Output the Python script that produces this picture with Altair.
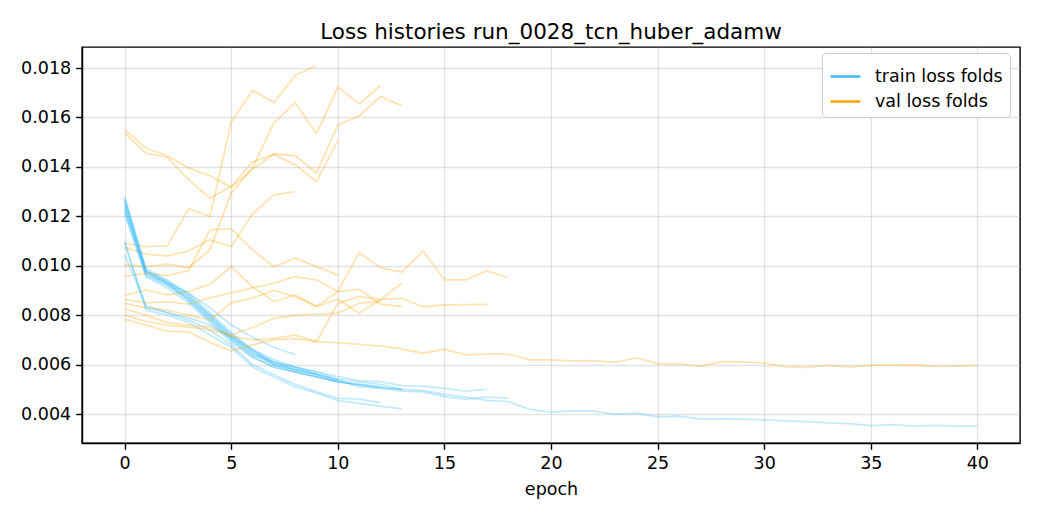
import altair as alt
import pandas as pd

# ---- data (epoch index = position in list) ----
TRAIN_F01 = [0.01044, 0.0084, 0.0081, 0.0079, 0.0076, 0.0071, 0.0066, 0.0062, 0.0059, 0.0056]
VAL_F01 = [0.0109, 0.01077, 0.0108, 0.0123, 0.0120, 0.0158, 0.0171, 0.0166, 0.0177, 0.0181]

TRAIN_F02 = [0.0128, 0.0099, 0.0094, 0.0089, 0.0081, 0.0073, 0.0066, 0.0061, 0.0059, 0.0057, 0.0054, 0.0053, 0.0052, 0.0050]
VAL_F02 = [0.0155, 0.01476, 0.01445, 0.01395, 0.01364, 0.01318, 0.0139, 0.01453, 0.01445, 0.01375, 0.0157, 0.01606, 0.01685, 0.01647]

TRAIN_F03 = [0.0126, 0.0098, 0.0093, 0.0088, 0.0080, 0.0072, 0.0065, 0.0060, 0.0058, 0.0056, 0.0053]
VAL_F03 = [0.01536, 0.01455, 0.01439, 0.01347, 0.01273, 0.0132, 0.0142, 0.0145, 0.01408, 0.0134, 0.01507]

TRAIN_F04 = [0.0124, 0.0097, 0.0092, 0.0087, 0.0079, 0.0071, 0.0064, 0.0060, 0.0057, 0.0055, 0.0053, 0.0052, 0.0051]
VAL_F04 = [0.01003, 0.00996, 0.01006, 0.00992, 0.01064, 0.01294, 0.01396, 0.01577, 0.0166, 0.01534, 0.01723, 0.01655, 0.01729]

TRAIN_F05 = [0.0127, 0.0098, 0.0093, 0.0089, 0.0083, 0.0076, 0.0071, 0.0067, 0.0064]
VAL_F05 = [0.01073, 0.01047, 0.0104, 0.0106, 0.01105, 0.01077, 0.0121, 0.01287, 0.0130]

TRAIN_F06 = [0.0122, 0.00965, 0.0093, 0.0086, 0.0078, 0.0070, 0.0064, 0.0061, 0.0058, 0.0056, 0.0054]
VAL_F06 = [0.00956, 0.0097, 0.0096, 0.0098, 0.01145, 0.0115, 0.01064, 0.00996, 0.0103, 0.00996, 0.00963]

TRAIN_F07 = [0.0125, 0.0096, 0.0092, 0.0086, 0.0078, 0.0070, 0.0063, 0.0059, 0.0057, 0.0055,
             0.00531, 0.00517, 0.00506, 0.00493, 0.0049, 0.0047, 0.0046, 0.00468, 0.00464]
VAL_F07 = [0.00879, 0.00902, 0.00882, 0.00895, 0.00925, 0.00996, 0.00915, 0.00855, 0.00882, 0.00835,
           0.00895, 0.01053, 0.00992, 0.00974, 0.0106, 0.00943, 0.00943, 0.00979, 0.00952]

TRAIN_F08 = [0.0127, 0.0098, 0.0094, 0.0088, 0.0080, 0.0072, 0.0066, 0.0060, 0.0058, 0.0056, 0.00538, 0.0051, 0.00504, 0.0050]
VAL_F08 = [0.00864, 0.00850, 0.00855, 0.00845, 0.0087, 0.0089, 0.0091, 0.0093, 0.00956, 0.00943, 0.00895, 0.00905, 0.00845, 0.00835]

TRAIN_F09 = [0.0110, 0.0082, 0.0080, 0.0077, 0.0072, 0.0067, 0.0059, 0.0055, 0.0051, 0.00485, 0.00454, 0.00443, 0.00432, 0.00421]
VAL_F09 = [0.00848, 0.0083, 0.0082, 0.0080, 0.0078, 0.0085, 0.0087, 0.0090, 0.00875, 0.00835, 0.00864, 0.00808, 0.00862, 0.00929]

TRAIN_F10 = [0.0109, 0.0083, 0.0081, 0.0078, 0.0074, 0.0068, 0.0060, 0.0056, 0.0052, 0.0049, 0.00463, 0.0046, 0.00446]
VAL_F10 = [0.00801, 0.00775, 0.0076, 0.00752, 0.0074, 0.0072, 0.0075, 0.00787, 0.0080, 0.00804, 0.00808, 0.00848, 0.00857]

TRAIN_F11 = [0.0123, 0.00975, 0.0093, 0.0087, 0.0079, 0.0071, 0.0065, 0.0061, 0.0059, 0.0057,
             0.00551, 0.00534, 0.00531, 0.00515, 0.00513, 0.00504, 0.00493, 0.00501]
VAL_F11 = [0.00825, 0.0080, 0.0077, 0.0076, 0.00752, 0.00715, 0.0070, 0.00705, 0.0072, 0.00693,
           0.00848, 0.00875, 0.00864, 0.00868, 0.00834, 0.00841, 0.00843, 0.00844]

TRAIN_F12 = [0.0121, 0.00955, 0.0091, 0.0085, 0.0077, 0.0069, 0.0063, 0.0059, 0.0057, 0.0055,
             0.0053, 0.0052, 0.0051, 0.0050, 0.00495, 0.0048, 0.00468, 0.00455, 0.0045, 0.00419,
             0.00408, 0.00413, 0.00412, 0.00399, 0.00403, 0.00389, 0.00391, 0.00379, 0.0038, 0.00379,
             0.00376, 0.00372, 0.00369, 0.00364, 0.00361, 0.00353, 0.00357, 0.00351, 0.00354, 0.00351, 0.00351]
VAL_F12 = [0.00783, 0.0076, 0.00735, 0.00732, 0.0069, 0.00655, 0.0068, 0.0070, 0.00705, 0.00693,
           0.00689, 0.00682, 0.00675, 0.00663, 0.00646, 0.00662, 0.00639, 0.00642, 0.00642, 0.00619,
           0.00619, 0.00615, 0.00616, 0.00609, 0.00627, 0.00604, 0.00604, 0.00593, 0.00612, 0.00611,
           0.00606, 0.00591, 0.00589, 0.00597, 0.0059, 0.00598, 0.00598, 0.006, 0.00593, 0.00594, 0.00597]

FOLDS = [
    (TRAIN_F01, VAL_F01), (TRAIN_F02, VAL_F02), (TRAIN_F03, VAL_F03), (TRAIN_F04, VAL_F04),
    (TRAIN_F05, VAL_F05), (TRAIN_F06, VAL_F06), (TRAIN_F07, VAL_F07), (TRAIN_F08, VAL_F08),
    (TRAIN_F09, VAL_F09), (TRAIN_F10, VAL_F10), (TRAIN_F11, VAL_F11), (TRAIN_F12, VAL_F12),
]

X_TICKS = [0, 5, 10, 15, 20, 25, 30, 35, 40]
Y_TICKS = [0.004, 0.006, 0.008, 0.010, 0.012, 0.014, 0.016, 0.018]
LEGEND_NAMES = ["train loss folds", "val loss folds"]
COLORS = ["#38bdf8", "#ffa500"]
TITLE = "Loss histories run_0028_tcn_huber_adamw"

rows = []
for i, (tr, va) in enumerate(FOLDS):
    for kind, vals in ((LEGEND_NAMES[0], tr), (LEGEND_NAMES[1], va)):
        for e, v in enumerate(vals):
            rows.append({"series": f"{kind}_{i:02d}", "kind": kind, "epoch": e, "loss": v})
df = pd.DataFrame(rows)

FONT = "DejaVu Sans"

chart = (
    alt.Chart(df)
    .mark_line(strokeWidth=1.8, opacity=0.3)
    .encode(
        x=alt.X("epoch:Q",
                scale=alt.Scale(domain=[-2, 42], nice=False, zero=False),
                axis=alt.Axis(values=X_TICKS, title="epoch", format="d", labelFlush=False)),
        y=alt.Y("loss:Q",
                scale=alt.Scale(domain=[0.002827, 0.01885], nice=False, zero=False),
                axis=alt.Axis(values=Y_TICKS, title=None, format=".3f")),
        color=alt.Color("kind:N",
                        scale=alt.Scale(domain=LEGEND_NAMES, range=COLORS),
                        legend=alt.Legend(title=None, orient="none", legendX=740, legendY=6,
                                          symbolType="stroke", symbolSize=900,
                                          symbolStrokeWidth=2.5, symbolOpacity=1,
                                          labelFont=FONT, labelFontSize=17.5, labelColor="black",
                                          labelOffset=13, padding=7, rowPadding=-1,
                                          fillColor="white", strokeColor="#cccccc",
                                          cornerRadius=4)),
        detail="series:N",
    )
    .properties(
        width=938, height=396,
        title=alt.TitleParams(TITLE, font=FONT, fontSize=21.5, fontWeight="normal",
                              color="black", anchor="middle", frame="group", offset=6,
                              baseline="bottom", dy=24),
        autosize=alt.AutoSizeParams(type="none"),
        padding={"left": 74, "top": 39, "right": 12, "bottom": 69},
    )
    .configure_view(stroke="black", strokeWidth=1.4)
    .configure_axis(
        domainColor="black", domainWidth=1.4,
        tickColor="black", tickWidth=1.4, tickSize=6.3,
        labelFont=FONT, labelFontSize=17.5, labelColor="black", labelPadding=5,
        gridColor="#b0b0b0", gridOpacity=0.35, gridWidth=1.3,
        titleFont=FONT, titleFontSize=17.5, titleFontWeight="normal", titleColor="black",
        titlePadding=9,
    )
)

chart.save("out.html", embed_options={"renderer": "svg", "actions": False})
